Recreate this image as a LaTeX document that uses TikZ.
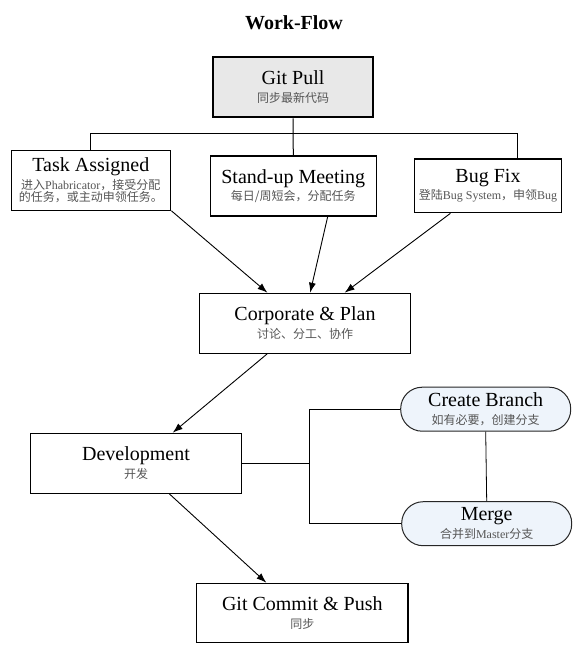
\documentclass[tikz,border=0pt]{standalone}
\usepackage{fontspec}
\setmainfont{Liberation Serif}
\newfontfamily\cjk{Noto Sans CJK SC}
\usetikzlibrary{arrows.meta}
\definecolor{subgray}{HTML}{555555}
\definecolor{gpfill}{HTML}{E8E8E8}
\definecolor{cbfill}{HTML}{EEF4FB}
\newcommand\ttl[1]{{\fontsize{20}{20}\selectfont #1}}
\newcommand\sbt[1]{{\color{subgray}\fontsize{12}{12.5}\selectfont #1}}
\newcommand\nodefnt{\fontsize{12}{12.5}\selectfont\lineskiplimit=-100pt\relax}
\begin{document}
\begin{tikzpicture}[x=1pt,y=-1pt,
  box/.style={draw, line width=1.2pt, rectangle, align=center, inner sep=0pt, font=\nodefnt},
  pill/.style={draw=black!85, line width=1pt, fill=cbfill, rectangle, rounded corners=21.5pt, align=center, inner sep=0pt, font=\nodefnt, minimum width=170pt, minimum height=44pt},
  link/.style={line width=1pt},
  arr/.style={line width=0.9pt, -{Latex[length=10pt,width=7pt]}}]
\useasboundingbox (0,0) rectangle (577,654);

\node (title) at (294,23) {\bfseries\fontsize{20}{20}\selectfont Work-Flow};

\node[box, line width=2.6pt, fill=gpfill, minimum width=160pt, minimum height=60pt] (gp) at (293,87)
  {\ttl{Git Pull}\\[5pt]\sbt{\cjk 同步最新代码}};

\node[box, minimum width=159pt, minimum height=60pt] (task) at (90.8,180.2)
  {\ttl{Task Assigned}\\[5pt]\sbt{{\cjk 进入}Phabricator{\cjk ，接受分配}}\\\sbt{\cjk 的任务，或主动申领任务。}};

\node[box, minimum width=166pt, minimum height=60pt] (stand) at (293.3,186)
  {\ttl{Stand-up Meeting}\\[5pt]\sbt{\cjk 每日/周短会，分配任务}};

\node[box, minimum width=147.4pt, minimum height=53.7pt] (bug) at (488,185.9)
  {\ttl{Bug Fix}\\[5pt]\sbt{{\cjk 登陆}Bug System{\cjk ，申领}Bug}};

\node[box, minimum width=211.5pt, minimum height=60pt] (corp) at (305,323.3)
  {\ttl{Corporate \& Plan}\\[5pt]\sbt{\cjk 讨论、分工、协作}};

\node[box, minimum width=211.4pt, minimum height=60pt] (dev) at (136,463.3)
  {\ttl{Development}\\[5pt]\sbt{\cjk 开发}};

\node[pill] (cb) at (485.7,409.2)
  {\ttl{Create Branch}\\[5pt]\sbt{\cjk 如有必要，创建分支}};

\node[pill] (merge) at (486.7,523.7)
  {\ttl{Merge}\\[5pt]\sbt{{\cjk 合并到}Master{\cjk 分支}}};

\node[box, minimum width=211.5pt, minimum height=59.4pt] (commit) at (302.3,613)
  {\ttl{Git Commit \& Push}\\[5pt]\sbt{\cjk 同步}};

% tree from Git Pull
\coordinate (tl) at (90.8,133.3);
\coordinate (tr) at (517.3,133.3);
\draw[link] (gp.south) -- (stand.north);
\draw[link] (task.north) -- (tl) -- (tr) -- (tr |- bug.north);

% arrows into Corporate & Plan
\draw[arr] ([xshift=0.5pt]task.south east) -- ([xshift=68.8pt]corp.north west);
\draw[arr] ([xshift=118pt]stand.south west) -- ([xshift=111.5pt]corp.north west);
\draw[arr] ([xshift=36.7pt]bug.south west) -- ([xshift=146pt]corp.north west);

% Corporate -> Development -> Commit
\draw[arr] ([xshift=68.5pt]corp.south west) -- ([xshift=143pt]dev.north west);
\draw[arr] ([xshift=139.7pt]dev.south west) -- ([xshift=70.4pt]commit.north west);

% bracket to branch / merge
\coordinate (bx) at (309.3,463.3);
\draw[link] (dev.east) -- (bx);
\draw[link] (cb.west) -| (bx) |- (merge.west);
\draw[line width=0.8pt] (cb.south) -- (merge.north);
\end{tikzpicture}
\end{document}
